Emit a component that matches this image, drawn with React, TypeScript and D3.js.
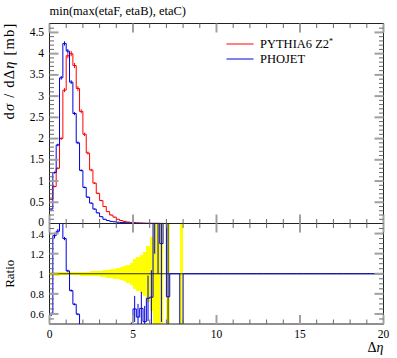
import { useEffect, useRef } from 'react'
import * as d3 from 'd3'

// bin width in delta eta, bins start at 0
const binWidth = 0.2

// dsigma/d(delta eta) [mb], one value per bin, empty after the last
const pythiaZ2 = [
  0.57, 0.87, 1.3, 2.0, 3.14, 3.95, 4.0, 3.72, 3.18, 2.64,
  2.1, 1.66, 1.26, 0.95, 0.71, 0.54, 0.4, 0.28, 0.2, 0.15,
  0.1, 0.07, 0.05, 0.035, 0.025, 0.018, 0.013, 0.009, 0.0065, 0.0045,
  0.003, 0.002, 0.0015, 0.001, 0, 0.0007, 0, 0, 0, 0.0005,
]
const phojet = [
  0.34, 1.2, 1.85, 3.43, 4.24, 4.06, 3.33, 2.59, 1.9, 1.25,
  0.85, 0.62, 0.48, 0.34, 0.25, 0.16, 0.1, 0.07, 0.05, 0.04,
  0.03, 0.025, 0.02, 0.015, 0.011, 0.0117, 0.0074, 0.0059, 0.0034, 0.0034,
  0.0023, 0.004, 0.003, 0.0013, 0.0008, 0.00054, 0, 0, 0, 0,
]
// relative stat. errors
const pythiaRelErr = [
  0.022, 0.02, 0.018, 0.016, 0.015, 0.015, 0.015, 0.016, 0.017, 0.018,
  0.019, 0.021, 0.023, 0.025, 0.027, 0.03, 0.034, 0.038, 0.043, 0.048,
  0.055, 0.065, 0.075, 0.09, 0.11, 0.15, 0.17, 0.19, 0.22, 0.28,
  0.37, 0.55, 0.8, 1.0, 0, 1.0, 0, 0, 0, 1.0,
]
const phojetRelErr = [
  0.03, 0.02, 0.016, 0.013, 0.012, 0.012, 0.013, 0.014, 0.016, 0.02,
  0.024, 0.028, 0.032, 0.038, 0.045, 0.052, 0.065, 0.08, 0.09, 0.1,
  0.11, 0.12, 0.13, 0.15, 0.17, 0.2, 0.23, 0.25, 0.3, 0.3,
  0.35, 0.4, 0.5, 0.6, 0.7, 1.0, 0, 0, 0, 0,
]

const xTicks = [0, 5, 10, 15, 20]
const yTicks = [0, 0.5, 1, 1.5, 2, 2.5, 3, 3.5, 4, 4.5]
const ratioTicks = [0.6, 0.8, 1, 1.2, 1.4]

const W = 397
const H = 358
const left = 49.5
const right = 383.5
const mainTop = 23.5
const mainBottom = 223.5
const ratioBottom = 324

const red = '#ff0000'
const blue = '#0000dd'
const font = 'Liberation Serif, DejaVu Serif, serif'

export default function App() {
  const ref = useRef<HTMLDivElement>(null)

  useEffect(() => {
    document.body.style.margin = '0'
    const root = d3.select(ref.current)
    root.selectAll('svg').remove()

    const svg = root
      .append('svg')
      .attr('width', W)
      .attr('height', H)
      .attr('font-family', font)
      .style('display', 'block')

    const x = d3.scaleLinear().domain([0, 20]).range([left, right])
    const y = d3.scaleLinear().domain([0, 4.71]).range([mainBottom, mainTop])
    const yr = d3.scaleLinear().domain([0.5, 1.5]).range([ratioBottom, mainBottom])

    const nBins = Math.round(20 / binWidth)
    const edges = d3.range(nBins + 1).map((i) => i * binWidth)
    const at = (arr: number[], i: number) => (i < arr.length ? arr[i] : 0)

    const defs = svg.append('defs')
    defs.append('clipPath').attr('id', 'clip-main')
      .append('rect').attr('x', left).attr('y', mainTop)
      .attr('width', right - left).attr('height', mainBottom - mainTop)
    defs.append('clipPath').attr('id', 'clip-ratio')
      .append('rect').attr('x', left).attr('y', mainBottom)
      .attr('width', right - left).attr('height', ratioBottom - mainBottom)

    const step = (vals: number[], ys: d3.ScaleLinear<number, number>) =>
      d3.line<number>()
        .x((e) => x(e))
        .y((_, i) => ys(vals[Math.min(i, nBins - 1)]))
        .curve(d3.curveStepAfter)(edges)

    // ---- main panel
    const gMain = svg.append('g').attr('clip-path', 'url(#clip-main)')
    const series = [
      { vals: pythiaZ2, err: pythiaRelErr, color: red },
      { vals: phojet, err: phojetRelErr, color: blue },
    ]
    series.forEach((s) => {
      const v = d3.range(nBins).map((i) => at(s.vals, i))
      gMain.append('path')
        .attr('d', step(v, y))
        .attr('fill', 'none')
        .attr('stroke', s.color)
        .attr('stroke-width', 1)
      gMain.selectAll(null)
        .data(d3.range(nBins).filter((i) => v[i] > 0))
        .enter()
        .append('line')
        .attr('x1', (i) => x((i + 0.5) * binWidth))
        .attr('x2', (i) => x((i + 0.5) * binWidth))
        .attr('y1', (i) => y(v[i] * (1 - at(s.err, i))))
        .attr('y2', (i) => y(v[i] * (1 + at(s.err, i))))
        .attr('stroke', s.color)
        .attr('stroke-width', 1)
    })

    // ---- ratio panel
    const gRatio = svg.append('g').attr('clip-path', 'url(#clip-ratio)')
    const refVals = d3.range(nBins).map((i) => at(pythiaZ2, i))
    const ratio = d3.range(nBins).map((i) => {
      const r = refVals[i]
      const b = at(phojet, i)
      if (r > 0) return b / r
      return b > 0 ? 5 : 1
    })

    gRatio.selectAll(null)
      .data(d3.range(nBins).filter((i) => refVals[i] > 0))
      .enter()
      .append('rect')
      .attr('x', (i) => x(edges[i]))
      .attr('width', (i) => x(edges[i + 1]) - x(edges[i]))
      .attr('y', (i) => yr(1 + at(pythiaRelErr, i)))
      .attr('height', (i) => yr(1 - at(pythiaRelErr, i)) - yr(1 + at(pythiaRelErr, i)))
      .attr('fill', '#ffff00')
      .attr('shape-rendering', 'crispEdges')

    gRatio.append('line')
      .attr('x1', left).attr('x2', right)
      .attr('y1', yr(1)).attr('y2', yr(1))
      .attr('stroke', '#333300')
      .attr('stroke-width', 1)

    gRatio.append('path')
      .attr('d', step(ratio, yr))
      .attr('fill', 'none')
      .attr('stroke', blue)
      .attr('stroke-width', 1)

    gRatio.selectAll(null)
      .data(d3.range(nBins).filter((i) => refVals[i] > 0 && at(phojet, i) > 0))
      .enter()
      .append('line')
      .attr('x1', (i) => x((i + 0.5) * binWidth))
      .attr('x2', (i) => x((i + 0.5) * binWidth))
      .attr('y1', (i) => yr(ratio[i] * (1 - at(phojetRelErr, i))))
      .attr('y2', (i) => yr(ratio[i] * (1 + at(phojetRelErr, i))))
      .attr('stroke', blue)
      .attr('stroke-width', 1)

    // ---- frames
    ;[[mainTop, mainBottom], [mainBottom, ratioBottom]].forEach(([t, b]) => {
      svg.append('rect')
        .attr('x', left).attr('y', t)
        .attr('width', right - left).attr('height', b - t)
        .attr('fill', 'none')
        .attr('stroke', '#222')
        .attr('stroke-width', 1)
    })

    // ---- ticks
    const major = 9
    const minor = 4.5
    const tickG = svg.append('g')
    const tick = (x1: number, y1: number, x2: number, y2: number, isMajor: boolean) =>
      tickG.append('line')
        .attr('x1', x1).attr('y1', y1).attr('x2', x2).attr('y2', y2)
        .attr('stroke', isMajor ? '#a0a0a0' : '#6a6a6a')
        .attr('stroke-width', isMajor ? 2 : 1)

    const xMinor = d3.range(0, 21, 1)
    ;[[mainTop, 1], [mainBottom, -1], [mainBottom, 1], [ratioBottom, -1]].forEach(([yy, dir]) => {
      xMinor.forEach((v) => {
        const isMajor = xTicks.includes(v)
        const len = isMajor ? major : minor
        tick(x(v), yy, x(v), yy + dir * len, isMajor)
      })
    })

    const yMinor = d3.range(1, 47).map((i) => i / 10)
    yMinor.forEach((v) => {
      const isMajor = Math.abs(v * 2 - Math.round(v * 2)) < 1e-6
      const len = isMajor ? major : minor
      tick(left, y(v), left + len, y(v), isMajor)
      tick(right, y(v), right - len, y(v), isMajor)
    })

    const rMinor = d3.range(11, 30).map((i) => i / 20)
    rMinor.forEach((v) => {
      const isMajor = ratioTicks.some((t) => Math.abs(t - v) < 1e-6)
      const len = isMajor ? major : minor
      tick(left, yr(v), left + len, yr(v), isMajor)
      tick(right, yr(v), right - len, yr(v), isMajor)
    })

    // ---- tick labels
    svg.append('g')
      .selectAll('text')
      .data(xTicks)
      .enter()
      .append('text')
      .attr('x', (d) => x(d))
      .attr('y', 338)
      .attr('text-anchor', 'middle')
      .attr('font-size', 11.5)
      .text((d) => String(d))

    svg.append('g')
      .selectAll('text')
      .data(yTicks)
      .enter()
      .append('text')
      .attr('x', 44)
      .attr('y', (d) => y(d) + (d === 0 ? 2 : 3.5))
      .attr('text-anchor', 'end')
      .attr('font-size', 11.5)
      .text((d) => String(d))

    svg.append('g')
      .selectAll('text')
      .data(ratioTicks)
      .enter()
      .append('text')
      .attr('x', 44)
      .attr('y', (d) => yr(d) + 4)
      .attr('text-anchor', 'end')
      .attr('font-size', 11)
      .text((d) => String(d))

    // ---- titles and axis labels
    svg.append('text')
      .attr('x', left)
      .attr('y', 15)
      .attr('font-size', 12.5)
      .text('min(max(etaF, etaB), etaC)')

    const yLab = svg.append('text')
      .attr('transform', `translate(14, ${mainTop - 1}) rotate(-90)`)
      .attr('text-anchor', 'end')
      .attr('font-size', 14.5)
      .attr('letter-spacing', 1.2)
    yLab.append('tspan').text('d')
    yLab.append('tspan').attr('font-style', 'italic').text('σ')
    yLab.append('tspan').text(' / d')
    yLab.append('tspan').text('Δ')
    yLab.append('tspan').attr('font-style', 'italic').text('η')
    yLab.append('tspan').text(' [mb]')

    svg.append('text')
      .attr('transform', `translate(14, ${yr(1)}) rotate(-90)`)
      .attr('text-anchor', 'middle')
      .attr('font-size', 13)
      .text('Ratio')

    const xLab = svg.append('text')
      .attr('x', right)
      .attr('y', 352)
      .attr('text-anchor', 'end')
      .attr('font-size', 14)
    xLab.append('tspan').text('Δ')
    xLab.append('tspan').attr('font-style', 'italic').text('η')

    // ---- legend
    const legend = [
      { name: 'PYTHIA6 Z2', sup: '*', color: red },
      { name: 'PHOJET', sup: '', color: blue },
    ]
    legend.forEach((d, i) => {
      const ly = 44 + i * 15
      svg.append('line')
        .attr('x1', 226.5).attr('x2', 253.5)
        .attr('y1', ly).attr('y2', ly)
        .attr('stroke', d.color)
        .attr('stroke-width', 1)
      const t = svg.append('text')
        .attr('x', 260)
        .attr('y', ly + 4)
        .attr('font-size', 12.5)
        .text(d.name)
      if (d.sup) {
        t.append('tspan').attr('dy', -4).attr('font-size', 8).text(d.sup)
      }
    })
  }, [])

  return <div ref={ref}></div>
}
